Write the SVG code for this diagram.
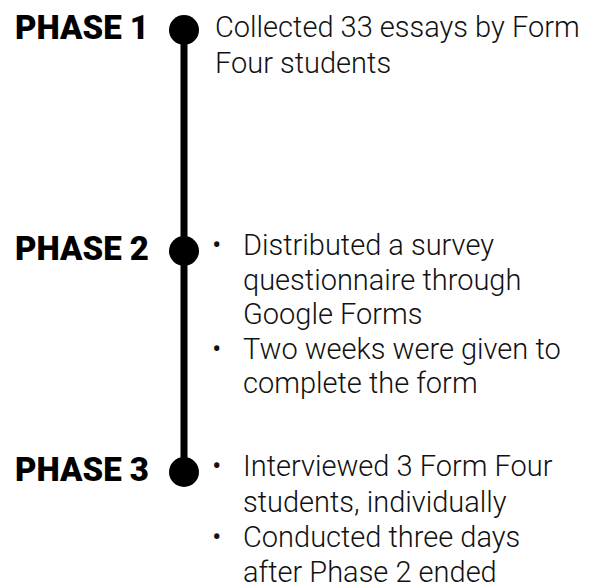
<svg xmlns="http://www.w3.org/2000/svg" width="601" height="588" viewBox="0 0 601 588">
<style>
.ph{font-family:Roboto,"Liberation Sans",sans-serif;font-weight:900;font-size:33px;fill:#000}
.tx{font-family:Roboto,"Liberation Sans",sans-serif;font-weight:300;font-size:29px;fill:#111}
.dot{fill:#000}
</style>
<rect width="601" height="588" fill="#fff"/>
<g id="connectors">
<line x1="184" y1="30" x2="184" y2="472" stroke="#000" stroke-width="7"/>
</g>
<g id="phase1">
<circle class="dot" cx="184" cy="30" r="15"/>
<text class="ph" x="15" y="39" textLength="134" lengthAdjust="spacingAndGlyphs">PHASE 1</text>
<text class="tx" x="215" y="37">Collected 33 essays by Form</text>
<text class="tx" x="215" y="73">Four students</text>
</g>
<g id="phase2">
<circle class="dot" cx="184" cy="251" r="15"/>
<text class="ph" x="15" y="260" textLength="134" lengthAdjust="spacingAndGlyphs">PHASE 2</text>
<text class="tx" x="212" y="255">•</text>
<text class="tx" x="243" y="255">Distributed a survey</text>
<text class="tx" x="243" y="289.5">questionnaire through</text>
<text class="tx" x="243" y="324">Google Forms</text>
<text class="tx" x="212" y="358.5">•</text>
<text class="tx" x="243" y="358.5">Two weeks were given to</text>
<text class="tx" x="243" y="393">complete the form</text>
</g>
<g id="phase3">
<circle class="dot" cx="184" cy="472" r="15"/>
<text class="ph" x="15" y="481" textLength="134" lengthAdjust="spacingAndGlyphs">PHASE 3</text>
<text class="tx" x="212" y="476">•</text>
<text class="tx" x="243" y="476">Interviewed 3 Form Four</text>
<text class="tx" x="243" y="511.5">students, individually</text>
<text class="tx" x="212" y="547">•</text>
<text class="tx" x="243" y="547">Conducted three days</text>
<text class="tx" x="243" y="582">after Phase 2 ended</text>
</g>
</svg>
